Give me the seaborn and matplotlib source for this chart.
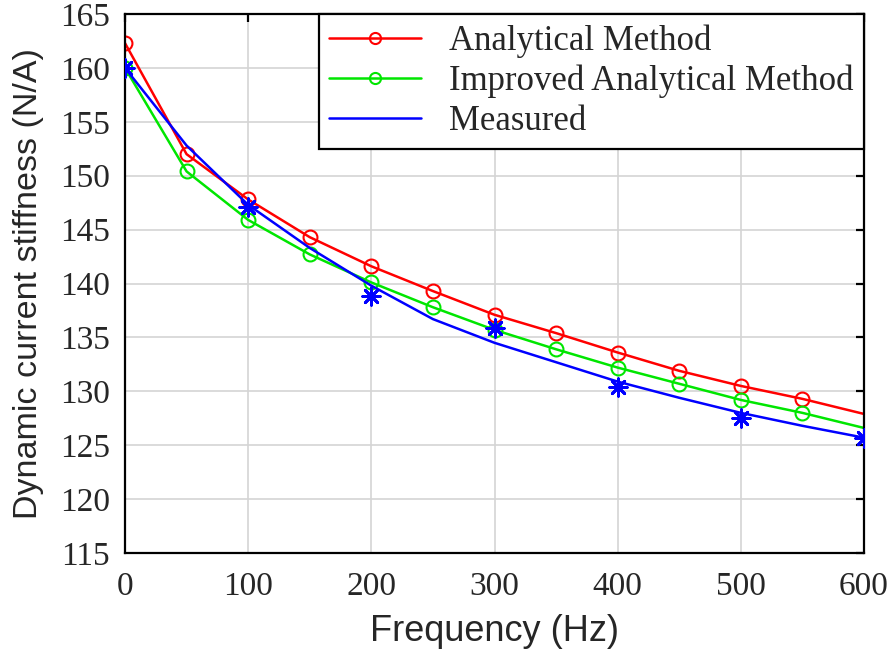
import matplotlib
matplotlib.use("Agg")
import matplotlib.pyplot as plt
import seaborn as sns
import pandas as pd

# values
freq = [0, 50, 100, 150, 200, 250, 300, 350, 400, 450, 500, 550, 600]
analytical = [162.3, 152.0, 147.8, 144.3, 141.6, 139.3, 137.1, 135.4, 133.6, 131.9, 130.5, 129.3, 127.9]
improved = [160.0, 150.4, 145.9, 142.7, 140.1, 137.8, 135.7, 133.9, 132.2, 130.7, 129.2, 128.0, 126.6]
measured_fit = [160.0, 152.8, 147.3, 143.3, 139.8, 136.7, 134.5, 132.7, 130.9, 129.4, 128.0, 126.8, 125.7]
meas_freq = [0, 100, 200, 300, 400, 500, 600]
measured = [160.0, 147.1, 138.8, 135.9, 130.4, 127.5, 125.7]

red = "#ff0000"
green = "#00e600"
blue = "#0000ff"

sns.set_style("whitegrid")
plt.rcParams["font.family"] = ["Liberation Sans", "DejaVu Sans"]

df = pd.DataFrame({"f": freq, "a": analytical, "i": improved, "m": measured_fit})
mk = pd.DataFrame({"f": meas_freq, "m": measured})

fig = plt.figure(figsize=(8.96, 6.56), dpi=100)
ax = fig.add_axes([0.1395, 0.157, 0.8248, 0.8216])

# circles at every point except the last one at 600 Hz
sns.lineplot(data=df, x="f", y="a", ax=ax, color=red, lw=1.8, marker="o",
             markersize=10, markerfacecolor="none", markeredgecolor=red,
             markeredgewidth=1.5, markevery=list(range(len(freq) - 1)),
             label="Analytical Method")
sns.lineplot(data=df, x="f", y="i", ax=ax, color=green, lw=1.8, marker="o",
             markersize=10, markerfacecolor="none", markeredgecolor=green,
             markeredgewidth=1.5, markevery=list(range(len(freq) - 1)),
             label="Improved Analytical Method")
sns.lineplot(data=df, x="f", y="m", ax=ax, color=blue, lw=1.8, label="Measured")
sns.scatterplot(data=mk, x="f", y="m", ax=ax, color=blue, marker=(8, 2, 0),
                s=160, linewidth=2.0, edgecolor=blue, zorder=5, legend=False)

ax.set_xlim(0, 600)
ax.set_ylim(115, 165)
ax.set_xticks(range(0, 601, 100))
ax.set_yticks(range(115, 166, 5))
ax.grid(True, color="#d4d4d4", lw=1.2)
for s in ax.spines.values():
    s.set_visible(True)
    s.set_color("black")
    s.set_linewidth(1.6)
ax.tick_params(direction="in", length=6, width=1.6, color="black",
               right=True, top=True)
ax.tick_params(axis="x", pad=13)
ax.tick_params(axis="y", pad=11)
for lab in ax.get_xticklabels() + ax.get_yticklabels():
    lab.set_fontfamily("Liberation Serif")
    lab.set_fontsize(24)
ax.set_xlabel("Frequency (Hz)", fontsize=26, labelpad=9)
ax.set_ylabel("Dynamic current stiffness (N/A)", fontsize=24.5, labelpad=11)

leg = ax.legend(loc="upper right", bbox_to_anchor=(1.0, 1.0), borderaxespad=0,
                prop={"family": "Liberation Serif", "size": 25},
                frameon=True, fancybox=False, edgecolor="black",
                handlelength=2.65, handletextpad=0.8, borderpad=0.3,
                labelspacing=0.2, markerscale=0.8)
leg.get_frame().set_linewidth(1.6)
leg.get_frame().set_alpha(1)

fig.savefig("out.png", dpi=100)
